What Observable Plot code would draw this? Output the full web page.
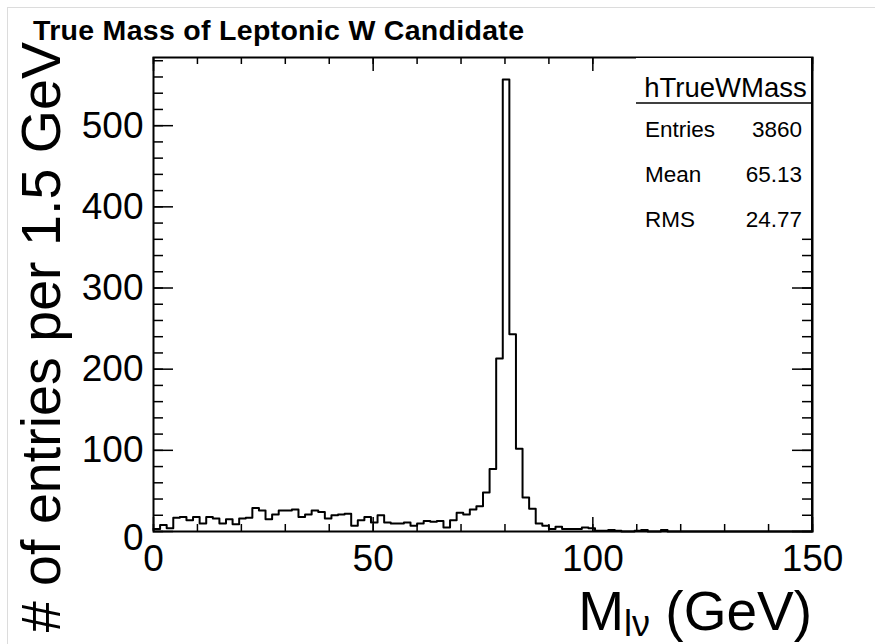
<!DOCTYPE html>
<html><head><meta charset="utf-8">
<script src="https://cdn.jsdelivr.net/npm/d3@7"></script>
<script src="https://cdn.jsdelivr.net/npm/@observablehq/plot@0.6"></script>
<style>body{margin:0;background:#fff;} #chart svg{display:block;}</style>
</head><body><div id="chart"></div>
<script>
// ---- data ----
const binWidth = 1.5;
const xRange = [0, 150];
const counts = [
  3, 8, 4, 17, 18, 14, 18, 10, 18, 16,
  10, 15, 9, 16, 17, 29, 26, 15, 21, 26,
  26, 27, 18, 21, 26, 24, 16, 20, 21, 22,
  7, 14, 18, 11, 20, 11, 10, 10, 11, 7,
  10, 13, 12, 13, 5, 14, 23, 21, 27, 31,
  48, 77, 213, 557, 243, 102, 42, 28, 10, 7,
  3, 6, 3, 3, 3, 5, 4, 1, 1, 2,
  1, 0, 0, 1, 2, 0, 0, 2, 0, 0,
  0, 0, 0, 0, 0, 0, 0, 0, 0, 0,
  0, 0, 0, 0, 0, 0, 0, 0, 0, 0
];
const xTickLabels = [0, 50, 100, 150];
const xMinorTicks = d3.range(0, 151, 10);
const yTickLabels = [0, 100, 200, 300, 400, 500];
const yMinorTicks = d3.range(0, 581, 20);
const yMax = 584;
const title = "True Mass of Leptonic W Candidate";
const yTitle = "# of entries per 1.5 GeV";
const xTitleMain = "M", xTitleSub = "lν", xTitleUnit = " (GeV)";
const statsName = "hTrueWMass";
const statsLabels = ["Entries", "Mean", "RMS"];
const statsValues = ["3860", "65.13", "24.77"];

// ---- layout ----
const W = 875, H = 644;
const mL = 153, mR = 63, mT = 57, mB = 113;
const fw = W - mL - mR, fh = H - mT - mB;
const font = "'Liberation Sans', Arial, Helvetica, sans-serif";

const pts = counts.map((c, i) => ({x: xRange[0] + i * binWidth, y: c}));
pts.push({x: xRange[1], y: counts[counts.length - 1]});

const plot = Plot.plot({
  width: W, height: H,
  marginLeft: mL, marginRight: mR, marginTop: mT, marginBottom: mB,
  style: {fontFamily: font, background: "white", color: "black"},
  x: {domain: xRange},
  y: {domain: [0, yMax]},
  marks: [
    Plot.line(pts, {x: "x", y: "y", curve: "step-after", stroke: "black", strokeWidth: 2}),
    // bottom / top ticks
    Plot.ruleX(xMinorTicks, {x: d => d, insetTop: fh - 7, stroke: "black", strokeWidth: 1.5}),
    Plot.ruleX(xTickLabels, {x: d => d, insetTop: fh - 14, stroke: "black", strokeWidth: 1.5}),
    Plot.ruleX(xMinorTicks, {x: d => d, insetBottom: fh - 7, stroke: "black", strokeWidth: 1.5}),
    Plot.ruleX(xTickLabels, {x: d => d, insetBottom: fh - 14, stroke: "black", strokeWidth: 1.5}),
    // left / right ticks
    Plot.ruleY(yMinorTicks, {y: d => d, insetRight: fw - 10, stroke: "black", strokeWidth: 1.5}),
    Plot.ruleY(yTickLabels, {y: d => d, insetRight: fw - 20, stroke: "black", strokeWidth: 1.5}),
    Plot.ruleY(yMinorTicks, {y: d => d, insetLeft: fw - 10, stroke: "black", strokeWidth: 1.5}),
    Plot.ruleY(yTickLabels, {y: d => d, insetLeft: fw - 20, stroke: "black", strokeWidth: 1.5}),
    Plot.axisX(xTickLabels, {tickSize: 0, tickPadding: 13, fontSize: 37, label: null, tickFormat: d => String(d)}),
    Plot.axisY(yTickLabels.filter(d => d > 0), {tickSize: 0, tickPadding: 10, fontSize: 37, label: null, tickFormat: d => String(d)}),
    Plot.axisY(yTickLabels.filter(d => d === 0), {tickSize: 0, tickPadding: 10, fontSize: 37, label: null, dy: 7, tickFormat: d => String(d)}),
    Plot.frame({stroke: "black", strokeWidth: 2})
  ]
});
document.getElementById("chart").appendChild(plot);

const svg = d3.select(plot);
// canvas border
svg.insert("rect", ":first-child").attr("x", 7.5).attr("y", 7.5).attr("width", W).attr("height", H)
  .attr("fill", "none").attr("stroke", "#dcdcdc");

// stats box
const bx = 636, by = mT + 1, bw = W - mR - 1 - bx, bh = 236 - by;
const g = svg.append("g").attr("font-family", font).attr("fill", "black").attr("text-anchor", "start");
g.append("rect").attr("x", bx).attr("y", by).attr("width", bw).attr("height", bh).attr("fill", "white");
g.append("line").attr("x1", bx).attr("x2", bx + bw).attr("y1", 103).attr("y2", 103).attr("stroke", "black").attr("stroke-width", 1.5);
g.append("text").attr("x", bx + bw / 2 + 2).attr("y", 97).attr("text-anchor", "middle").attr("font-size", 27.5).text(statsName);
statsLabels.forEach((l, i) => {
  g.append("text").attr("x", 645).attr("y", 137 + i * 45).attr("text-anchor", "start").attr("font-size", 22.5).text(l);
  g.append("text").attr("x", 802).attr("y", 137 + i * 45).attr("text-anchor", "end").attr("font-size", 22.5).text(statsValues[i]);
});
// redraw frame right edge over the box
svg.append("line").attr("x1", W - mR).attr("x2", W - mR).attr("y1", mT).attr("y2", H - mB).attr("stroke", "black").attr("stroke-width", 2);

// title
svg.append("text").attr("x", 33).attr("y", 40).attr("text-anchor", "start").attr("font-family", font).attr("font-weight", "bold")
  .attr("font-size", 28.5).attr("letter-spacing", 0.3).text(title);
// y title
svg.append("text").attr("transform", "translate(60,42) rotate(-90)").attr("text-anchor", "end")
  .attr("font-family", font).attr("font-size", 55.6).text(yTitle);
// x title
const xt = svg.append("text").attr("x", W - mR).attr("y", 630).attr("text-anchor", "end")
  .attr("font-family", font).attr("font-size", 55);
xt.append("tspan").text(xTitleMain);
xt.append("tspan").attr("dy", 6).attr("font-size", 36).text(xTitleSub);
xt.append("tspan").attr("dy", -6).text(xTitleUnit);
</script></body></html>
